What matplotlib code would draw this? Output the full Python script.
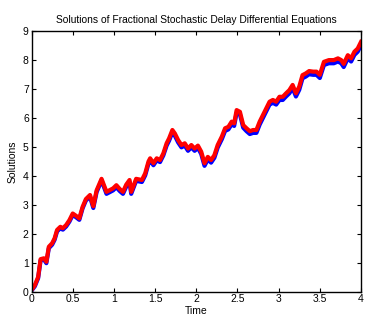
import matplotlib
matplotlib.use("Agg")
import matplotlib.pyplot as plt

time = [0.00, 0.04, 0.08, 0.11, 0.15, 0.18, 0.21, 0.25, 0.28, 0.31,
        0.35, 0.38, 0.42, 0.46, 0.50, 0.54, 0.58, 0.62, 0.66, 0.71,
        0.75, 0.79, 0.85, 0.91, 0.99, 1.03, 1.07, 1.11, 1.15, 1.19,
        1.21, 1.27, 1.34, 1.38, 1.42, 1.44, 1.48, 1.52, 1.56, 1.60,
        1.64, 1.67, 1.71, 1.74, 1.78, 1.82, 1.86, 1.90, 1.94, 1.98,
        2.02, 2.06, 2.10, 2.14, 2.18, 2.22, 2.26, 2.31, 2.35, 2.39,
        2.43, 2.46, 2.49, 2.53, 2.57, 2.61, 2.65, 2.69, 2.73, 2.77,
        2.81, 2.85, 2.89, 2.93, 2.97, 3.01, 3.05, 3.09, 3.13, 3.17,
        3.21, 3.25, 3.29, 3.33, 3.37, 3.42, 3.46, 3.50, 3.55, 3.61,
        3.67, 3.72, 3.76, 3.79, 3.84, 3.88, 3.92, 3.96, 4.00]

red_solution = [0.05, 0.22, 0.50, 1.12, 1.15, 1.03, 1.55, 1.67, 1.84, 2.13,
                2.24, 2.19, 2.30, 2.47, 2.70, 2.62, 2.53, 2.93, 3.20, 3.34,
                2.95, 3.50, 3.90, 3.45, 3.57, 3.68, 3.55, 3.45, 3.70, 3.86,
                3.45, 3.90, 3.86, 4.09, 4.50, 4.61, 4.44, 4.61, 4.55, 4.78,
                5.13, 5.30, 5.59, 5.47, 5.24, 5.07, 5.13, 4.95, 5.07, 4.95,
                5.05, 4.84, 4.44, 4.66, 4.55, 4.72, 5.07, 5.36, 5.65, 5.70,
                5.88, 5.82, 6.28, 6.22, 5.76, 5.65, 5.55, 5.59, 5.59, 5.88,
                6.11, 6.34, 6.57, 6.63, 6.57, 6.74, 6.74, 6.86, 6.97, 7.15,
                6.86, 7.09, 7.49, 7.55, 7.63, 7.61, 7.61, 7.50, 7.95, 8.01,
                8.01, 8.07, 8.01, 7.88, 8.18, 8.07, 8.30, 8.41, 8.64]

blue_solution = [0.03, 0.18, 0.46, 1.08, 1.11, 0.98, 1.50, 1.62, 1.79, 2.08,
                 2.19, 2.14, 2.25, 2.42, 2.65, 2.57, 2.48, 2.88, 3.15, 3.28,
                 2.89, 3.44, 3.84, 3.38, 3.50, 3.61, 3.48, 3.38, 3.63, 3.79,
                 3.38, 3.83, 3.79, 4.02, 4.43, 4.54, 4.37, 4.54, 4.48, 4.71,
                 5.05, 5.22, 5.51, 5.39, 5.16, 4.99, 5.05, 4.87, 4.99, 4.87,
                 4.97, 4.76, 4.35, 4.57, 4.46, 4.63, 4.98, 5.27, 5.56, 5.61,
                 5.79, 5.73, 6.19, 6.13, 5.67, 5.55, 5.45, 5.49, 5.49, 5.78,
                 6.01, 6.24, 6.47, 6.53, 6.47, 6.63, 6.63, 6.75, 6.86, 7.04,
                 6.75, 6.98, 7.38, 7.44, 7.52, 7.50, 7.50, 7.39, 7.84, 7.90,
                 7.90, 7.96, 7.90, 7.77, 8.07, 7.96, 8.19, 8.30, 8.53]

x_ticks = [0, 0.5, 1, 1.5, 2, 2.5, 3, 3.5, 4]
y_ticks = [0, 1, 2, 3, 4, 5, 6, 7, 8, 9]

plt.rcParams["font.family"] = ["Liberation Sans", "DejaVu Sans"]

fig = plt.figure(figsize=(3.8, 3.23), dpi=100)
ax = fig.add_axes([0.083, 0.0975, 0.867, 0.805])

ax.plot(time, blue_solution, color="blue", linewidth=3.0, solid_joinstyle="round")
ax.plot(time, red_solution, color="red", linewidth=3.0, solid_joinstyle="round")

ax.set_xlim(0, 4)
ax.set_ylim(0, 9)
ax.set_xticks(x_ticks)
ax.set_xticklabels([f"{t:g}" for t in x_ticks])
ax.set_yticks(y_ticks)
ax.tick_params(direction="in", length=3, width=0.8, labelsize=7.5,
               top=True, right=True, pad=2)
for spine in ax.spines.values():
    spine.set_linewidth(1.0)

ax.set_title("Solutions of Fractional Stochastic Delay Differential Equations",
             fontsize=7.4, pad=6)
ax.set_xlabel("Time", fontsize=7.5, labelpad=1)
ax.set_ylabel("Solutions", fontsize=7.5, labelpad=4)

fig.savefig("out.png", dpi=100)
